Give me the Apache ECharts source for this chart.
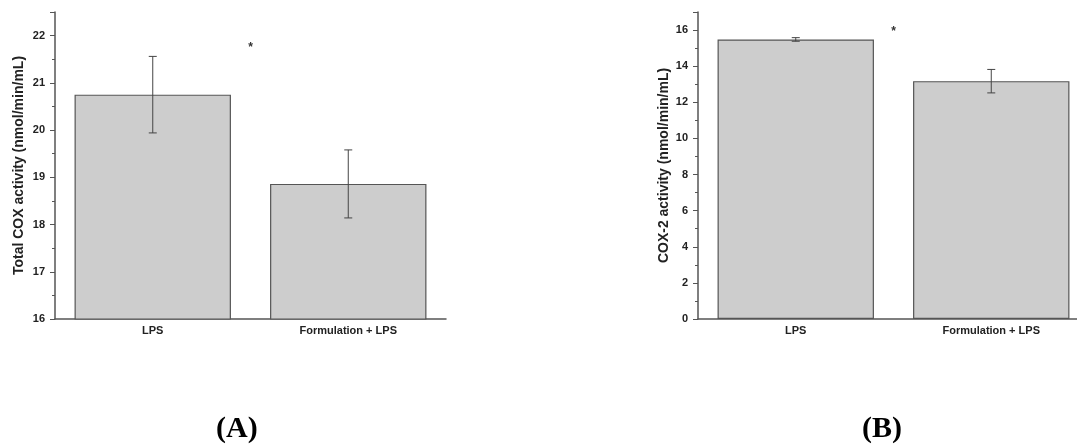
<!DOCTYPE html>
<html>
<head>
<meta charset="utf-8">
<script src="https://cdn.jsdelivr.net/npm/echarts@6/dist/echarts.min.js"></script>
<style>
html,body{margin:0;padding:0;background:#fff;}
#c{width:1077px;height:445px;}
</style>
</head>
<body>
<div id="c"></div>
<script>
// ---- data ----
const categories = ['LPS', 'Formulation + LPS'];
const totalCox = [20.75, 18.86];
const totalCoxErr = [0.81, 0.72];
const cox2 = [15.48, 13.17];
const cox2Err = [0.1, 0.65];
const totalCoxStarY = 21.8;
const cox2StarY = 16.1;
const panelLabels = ['(A)', '(B)'];
const titleA = 'Total COX activity (nmol/min/mL)';
const titleB = 'COX-2 activity (nmol/min/mL)';

const axisColor = '#555';
const textColor = '#222';
const font = 'Liberation Sans, Arial, sans-serif';

function errData(vals, errs) {
  return vals.map((v, i) => [i, v - errs[i], v + errs[i]]);
}

function errRender(params, api) {
  const lo = api.coord([api.value(0), api.value(1)]);
  const hi = api.coord([api.value(0), api.value(2)]);
  const cw = 4;
  const st = { stroke: '#444', lineWidth: 1 };
  return {
    type: 'group',
    children: [
      { type: 'line', shape: { x1: hi[0], y1: hi[1], x2: lo[0], y2: lo[1] }, style: st },
      { type: 'line', shape: { x1: hi[0] - cw, y1: hi[1], x2: hi[0] + cw, y2: hi[1] }, style: st },
      { type: 'line', shape: { x1: lo[0] - cw, y1: lo[1], x2: lo[0] + cw, y2: lo[1] }, style: st }
    ]
  };
}

function starRender(params, api) {
  const a = api.coord([0, api.value(1)]);
  const b = api.coord([1, api.value(1)]);
  return {
    type: 'text',
    style: {
      x: (a[0] + b[0]) / 2, y: a[1] + 3, text: '*',
      font: 'bold 12px ' + font, fill: '#333',
      align: 'center', verticalAlign: 'middle'
    }
  };
}

function xAxisCfg(gi) {
  return {
    type: 'category', gridIndex: gi, data: categories,
    axisLine: { lineStyle: { color: axisColor, width: 1.5 } },
    axisTick: { alignWithLabel: true, length: 4, lineStyle: { color: axisColor } },
    axisLabel: { color: textColor, fontFamily: font, fontWeight: 'bold', fontSize: 11, margin: 6 },
    splitLine: { show: false }
  };
}

function yAxisCfg(gi, min, max, interval, name, gap) {
  return {
    type: 'value', gridIndex: gi, min: min, max: max, interval: interval,
    name: name, nameLocation: 'middle', nameGap: gap, nameRotate: 90,
    nameTextStyle: { color: textColor, fontFamily: font, fontWeight: 'bold', fontSize: 14 },
    axisLine: { show: true, lineStyle: { color: axisColor, width: 1.5 } },
    axisTick: { show: true, length: 5, lineStyle: { color: axisColor } },
    minorTick: { show: true, splitNumber: 2, length: 3, lineStyle: { color: axisColor } },
    axisLabel: { color: textColor, fontFamily: font, fontWeight: 'bold', fontSize: 11, margin: 10, showMaxLabel: false },
    splitLine: { show: false }
  };
}

const barStyle = { color: '#cdcdcd', borderColor: '#555', borderWidth: 1.2 };

const chart = echarts.init(document.getElementById('c'), null, { renderer: 'canvas' });
chart.setOption({
  animation: false,
  backgroundColor: '#fff',
  grid: [
    { left: 55, top: 12, width: 391, height: 307, outerBoundsMode: 'none', containLabel: false },
    { left: 698, top: 12, width: 391, height: 307, outerBoundsMode: 'none', containLabel: false }
  ],
  xAxis: [xAxisCfg(0), xAxisCfg(1)],
  yAxis: [
    yAxisCfg(0, 16, 22.5, 1, titleA, 29),
    yAxisCfg(1, 0, 17, 2, titleB, 27)
  ],
  series: [
    { type: 'bar', xAxisIndex: 0, yAxisIndex: 0, data: totalCox, barWidth: '80%', itemStyle: barStyle },
    { type: 'bar', xAxisIndex: 1, yAxisIndex: 1, data: cox2, barWidth: '80%', itemStyle: barStyle },
    { type: 'custom', xAxisIndex: 0, yAxisIndex: 0, data: errData(totalCox, totalCoxErr), renderItem: errRender, z: 5 },
    { type: 'custom', xAxisIndex: 1, yAxisIndex: 1, data: errData(cox2, cox2Err), renderItem: errRender, z: 5 },
    { type: 'custom', xAxisIndex: 0, yAxisIndex: 0, data: [[0, totalCoxStarY]], renderItem: starRender, z: 5 },
    { type: 'custom', xAxisIndex: 1, yAxisIndex: 1, data: [[0, cox2StarY]], renderItem: starRender, z: 5 }
  ],
  graphic: [
    { type: 'text', left: 216, top: 414, style: { text: panelLabels[0], font: 'bold 30px "Liberation Serif", "Times New Roman", serif', fill: '#000' } },
    { type: 'text', left: 862, top: 414, style: { text: panelLabels[1], font: 'bold 30px "Liberation Serif", "Times New Roman", serif', fill: '#000' } }
  ]
});
</script>
</body>
</html>
